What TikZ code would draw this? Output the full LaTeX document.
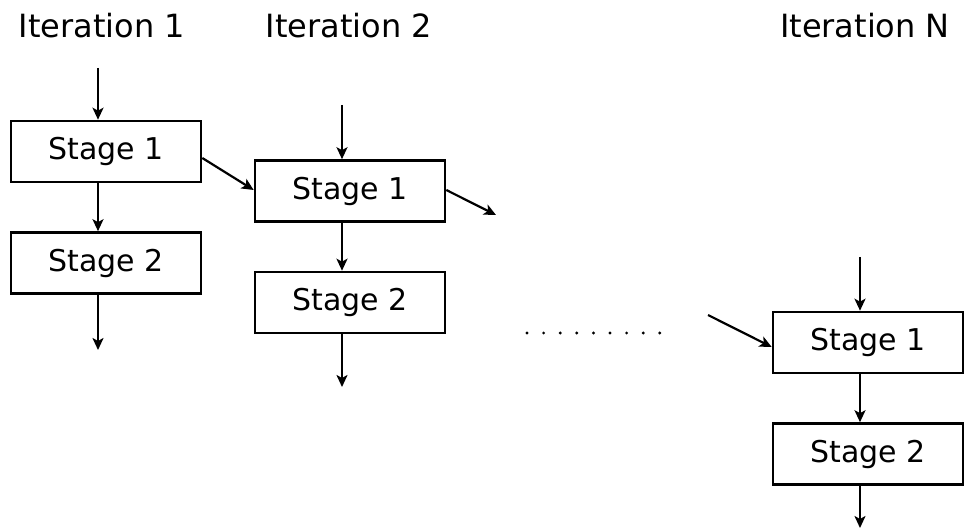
\documentclass[tikz,border=0pt]{standalone}
\usepackage{fontspec}
\setmainfont{DejaVu Sans}
\usetikzlibrary{arrows.meta}
\begin{document}
\begin{tikzpicture}[x=1pt,y=-1pt,
  stagebox/.style={draw, line width=2.6pt, minimum width=190pt, minimum height=61pt, inner sep=0pt, font=\fontsize{30}{34}\selectfont},
  itlabel/.style={anchor=base, font=\fontsize{32}{36}\selectfont},
  conn/.style={line width=2.2pt, -{Stealth[length=12pt,width=11pt,inset=3pt]}}]
\fill[white] (0,0) rectangle (964,529);
\useasboundingbox (0,0) rectangle (964,529);
% labels
\node[itlabel] (it1) at (102,38) {Iteration 1};
\node[itlabel] (it2) at (349,38) {Iteration 2};
\node[itlabel] (itN) at (865,38) {Iteration N};
% boxes
\node[stagebox] (a1) at (106,151.5) {Stage 1\hspace{20pt}};
\node[stagebox] (a2) at (106,263) {Stage 2\hspace{20pt}};
\node[stagebox] (b1) at (350,191) {Stage 1\hspace{20pt}};
\node[stagebox] (b2) at (350,302.5) {Stage 2\hspace{20pt}};
\node[stagebox] (c1) at (868,342.5) {Stage 1\hspace{20pt}};
\node[stagebox] (c2) at (868,454) {Stage 2\hspace{20pt}};
% free ends
\coordinate (a0) at (98,68);
\coordinate (a3) at (98,350);
\coordinate (b0) at (342,105);
\coordinate (b3) at (342,387);
\coordinate (bout) at (496,215);
\coordinate (c0) at (860,257);
\coordinate (c3) at (860,528);
\coordinate (cin) at (708,315);
% vertical arrows
\draw[conn] (a0) -- ([xshift=-8pt]a1.north);
\draw[conn] ([xshift=-8pt]a1.south) -- ([xshift=-8pt]a2.north);
\draw[conn] ([xshift=-8pt]a2.south) -- (a3);
\draw[conn] (b0) -- ([xshift=-8pt]b1.north);
\draw[conn] ([xshift=-8pt]b1.south) -- ([xshift=-8pt]b2.north);
\draw[conn] ([xshift=-8pt]b2.south) -- (b3);
\draw[conn] (c0) -- ([xshift=-8pt]c1.north);
\draw[conn] ([xshift=-8pt]c1.south) -- ([xshift=-8pt]c2.north);
\draw[conn] ([xshift=-8pt]c2.south) -- (c3);
% diagonal arrows
\draw[conn] ([yshift=-6.5pt]a1.east) -- ([yshift=1pt]b1.west);
\draw[conn] ([yshift=1pt]b1.east) -- (bout);
\draw[conn] (cin) -- ([yshift=-4.5pt]c1.west);
% dots
\foreach \i in {0,...,8} \fill (527+16.6*\i,333) circle (1.6pt);
\end{tikzpicture}
\end{document}
